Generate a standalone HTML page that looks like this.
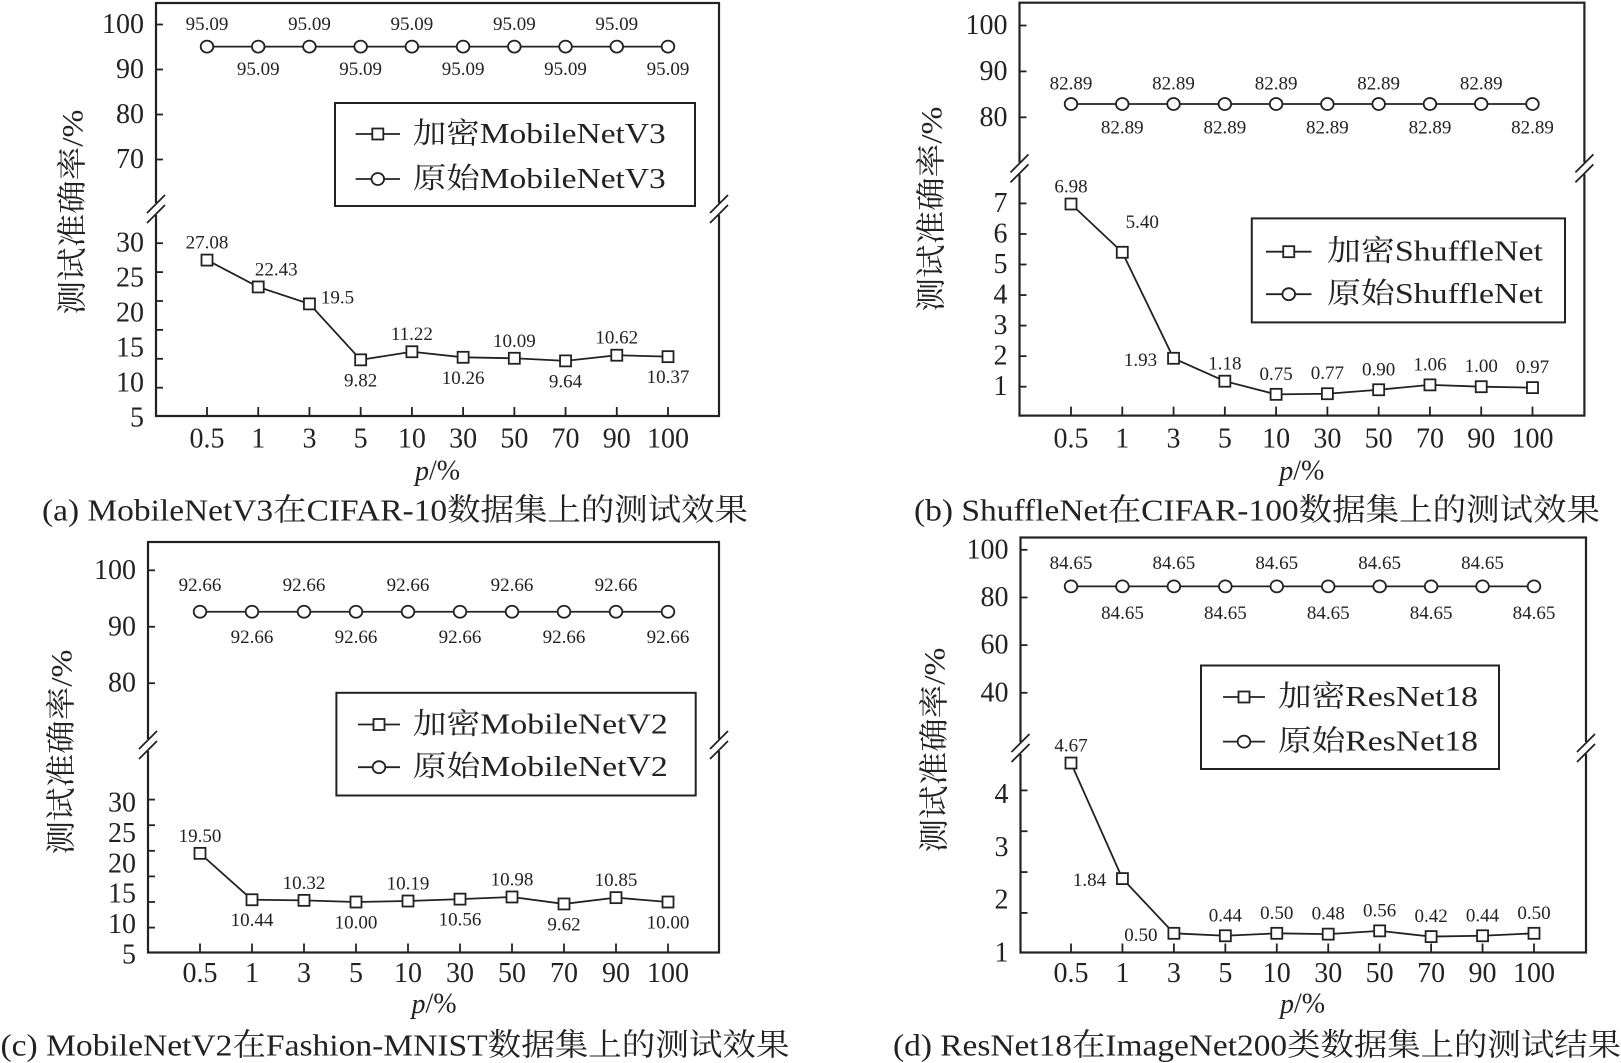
<!DOCTYPE html>
<html><head><meta charset="utf-8">
<style>
html,body{margin:0;padding:0;background:#fff;}
svg{display:block;}
text{font-family:"Liberation Serif","Noto Serif CJK SC","Noto Sans CJK SC",serif;fill:#222;}
</style></head>
<body>
<svg id="fig" width="1621" height="1063" viewBox="0 0 1621 1063" xmlns="http://www.w3.org/2000/svg"></svg>
<script>
// ---- data ----
const categories = ["0.5","1","3","5","10","30","50","70","90","100"];
const encA = [27.08,22.43,19.5,9.82,11.22,10.26,10.09,9.64,10.62,10.37];
const origA = [95.09,95.09,95.09,95.09,95.09,95.09,95.09,95.09,95.09,95.09];
const encALabels = ["27.08","22.43","19.5","9.82","11.22","10.26","10.09","9.64","10.62","10.37"];
const encB = [6.98,5.40,1.93,1.18,0.75,0.77,0.90,1.06,1.00,0.97];
const origB = [82.89,82.89,82.89,82.89,82.89,82.89,82.89,82.89,82.89,82.89];
const encBLabels = ["6.98","5.40","1.93","1.18","0.75","0.77","0.90","1.06","1.00","0.97"];
const encC = [19.50,10.44,10.32,10.00,10.19,10.56,10.98,9.62,10.85,10.00];
const origC = [92.66,92.66,92.66,92.66,92.66,92.66,92.66,92.66,92.66,92.66];
const encCLabels = ["19.50","10.44","10.32","10.00","10.19","10.56","10.98","9.62","10.85","10.00"];
const encD = [4.67,1.84,0.50,0.44,0.50,0.48,0.56,0.42,0.44,0.50];
const origD = [84.65,84.65,84.65,84.65,84.65,84.65,84.65,84.65,84.65,84.65];
const encDLabels = ["4.67","1.84","0.50","0.44","0.50","0.48","0.56","0.42","0.44","0.50"];
const upTicksA = [100,90,80,70], loTicksA = [30,25,20,15,10,5];
const upTicksB = [100,90,80], loTicksB = [7,6,5,4,3,2,1];
const upTicksC = [100,90,80], loTicksC = [30,25,20,15,10,5];
const upTicksD = [100,80,60,40], loTicksD = [4,3,2,1];

const NS="http://www.w3.org/2000/svg";
const svg=document.getElementById('fig');
function mk(tag,attrs,parent){const e=document.createElementNS(NS,tag);for(const k in attrs)e.setAttribute(k,attrs[k]);(parent||svg).appendChild(e);return e;}
function lin(v1,p1,v2,p2){return v=>p1+(v-v1)*(p2-p1)/(v2-v1);}

const placeOff={a:[0,-17],b:[0,21],ar:[18,-17],r:[28,-6],l:[-33,2],A:[20,-30],a2:[0,-20]};

const panels=[
 {id:'a',box:[156,719,3,416],xs:[207,668],up:[100,24.5,70,159.5],lo:[30,243.2,10,358.8],loLab:[30,243,5,418],
  upT:upTicksA,loT:loTicksA,brk:209,enc:encA,orig:origA,encL:encALabels,upOff:[-22,23],
  place:['a','ar','r','b','a','b','a','b','a','b'],
  leg:[335,695,103,206],legRows:[134,179],legLine:[355.6,400],legText:412.8,legLen:253,model:'MobileNetV3',
  yt:[73,212],xlabY:439,ptY:471,cap:'(a) MobileNetV3在CIFAR-10数据集上的测试效果',capX:395,capY:510,capLen:706},
 {id:'b',box:[1019.5,1584.4,2.7,415.6],xs:[1071,1532.5],up:[100,25.5,80,117.3],lo:[7,203.4,1,386.7],loLab:[7,203.4,1,386.7],
  upT:upTicksB,loT:loTicksB,brk:168.4,enc:encB,orig:origB,encL:encBLabels,upOff:[-20,24],
  place:['a','A','l','a','a2','a2','a2','a2','a2','a2'],
  leg:[1251.8,1565,218.4,322.4],legRows:[251.7,294.2],legLine:[1266,1311.5],legText:1327,legLen:216,model:'ShuffleNet',
  yt:[932,209],xlabY:439,ptY:471,cap:'(b) ShuffleNet在CIFAR-100数据集上的测试效果',capX:1257,capY:510,capLen:686},
 {id:'c',box:[148,719,542,952.5],xs:[200,668],up:[100,570.3,80,683.2],lo:[30,799.6,10,902],loLab:[30,803,5,955],
  upT:upTicksC,loT:loTicksC,brk:745,enc:encC,orig:origC,encL:encCLabels,upOff:[-26,26],
  place:['a','b','a','b','a','b','a','b','a','b'],
  leg:[336.4,695.7,692.8,795.5],legRows:[724.5,767.2],legLine:[358,400],legText:412.8,legLen:255,model:'MobileNetV2',
  yt:[62,752],xlabY:973.7,ptY:1004,cap:'(c) MobileNetV2在Fashion-MNIST数据集上的测试效果',capX:395,capY:1045,capLen:789},
 {id:'d',box:[1020.5,1586,537.5,952.5],xs:[1071,1534],up:[100,549.8,40,692.8],lo:[4,790.4,1,912.9],loLab:[4,794.5,1,953],
  upT:upTicksD,loT:loTicksD,brk:748,enc:encD,orig:origD,encL:encDLabels,upOff:[-23,27],
  place:['a','l','l','a2','a2','a2','a2','a2','a2','a2'],
  leg:[1201,1499,665.5,769],legRows:[697,741.6],legLine:[1223,1265],legText:1278,legLen:200,model:'ResNet18',
  yt:[935,750],xlabY:973.7,ptY:1004,cap:'(d) ResNet18在ImageNet200类数据集上的测试结果',capX:1257,capY:1045,capLen:728}
];

function sq(g,x,y){const r=mk('rect',{x:x-5.5,y:y-5.5,width:11,height:11,fill:'#fff',stroke:'#222','stroke-width':1.8},g);return r;}
function ci(g,x,y){const c=mk('ellipse',{cx:x,cy:y,rx:6.3,ry:6,fill:'#fff',stroke:'#222','stroke-width':1.8},g);return c;}

panels.forEach(P=>{
 const g=mk('g',{});
 
 
 const [x0,x1,y0,y1]=P.box;
 const xS=i=>P.xs[0]+i*(P.xs[1]-P.xs[0])/(categories.length-1);
 const yU=lin(...P.up), yL=lin(...P.lo), yLab=lin(...P.loLab);
 const box=mk('rect',{x:x0,y:y0,width:x1-x0,height:y1-y0,fill:'none',stroke:'#222','stroke-width':2.2},g);
 
 
 [x0,x1].forEach((bx,k)=>{
  const w=mk('rect',{x:bx-3,y:P.brk-6,width:6,height:12,fill:'#fff'},g);
  
  
  [-5,5].forEach(o=>{
   const l=mk('line',{x1:bx-9,y1:P.brk+o+9,x2:bx+9,y2:P.brk+o-9,stroke:'#222','stroke-width':1.8},g);
   
   
  });
 });
 P.upT.forEach(v=>{
  const y=yU(v);
  const t=mk('line',{x1:x0,y1:y,x2:x0+7,y2:y,stroke:'#222','stroke-width':1.8},g);
  
  
  const tx=mk('text',{x:x0-12,y:y,'text-anchor':'end','dominant-baseline':'central','font-size':28},g);
  tx.textContent=v;
  
  
 });
 P.loT.forEach(v=>{
  const y=yL(v);
  const t=mk('line',{x1:x0,y1:y,x2:x0+7,y2:y,stroke:'#222','stroke-width':1.8},g);
  
  
  const tx=mk('text',{x:x0-12,y:yLab(v),'text-anchor':'end','dominant-baseline':'central','font-size':28},g);
  tx.textContent=v;
  
  
 });
 categories.forEach((c,i)=>{
  const x=xS(i);
  const t=mk('line',{x1:x,y1:y1,x2:x,y2:y1-9,stroke:'#222','stroke-width':1.8},g);
  
  
  const tx=mk('text',{x:x,y:P.xlabY,'text-anchor':'middle','dominant-baseline':'central','font-size':28},g);
  tx.textContent=c;
  
  
 });
 const op=mk('polyline',{points:P.orig.map((v,i)=>xS(i)+','+yU(v)).join(' '),fill:'none',stroke:'#222','stroke-width':1.8},g);
 
 
 P.orig.forEach((v,i)=>{
  ci(g,xS(i),yU(v));
  const tx=mk('text',{x:xS(i),y:yU(v)+P.upOff[i%2],'text-anchor':'middle','dominant-baseline':'central','font-size':19},g);
  tx.textContent=v.toFixed(2);
  
  
 });
 const ep=mk('polyline',{points:P.enc.map((v,i)=>xS(i)+','+yL(v)).join(' '),fill:'none',stroke:'#222','stroke-width':1.8},g);
 
 
 P.enc.forEach((v,i)=>{
  sq(g,xS(i),yL(v));
  const o=placeOff[P.place[i]];
  const tx=mk('text',{x:xS(i)+o[0],y:yL(v)+o[1],'text-anchor':'middle','dominant-baseline':'central','font-size':19},g);
  tx.textContent=P.encL[i];
  
  
 });
 const [lx0,lx1,ly0,ly1]=P.leg;
 const lg=mk('g',{},g);
 
 
 mk('rect',{x:lx0,y:ly0,width:lx1-lx0,height:ly1-ly0,fill:'#fff',stroke:'#222','stroke-width':2},lg);
 ['加密','原始'].forEach((pre,k)=>{
  const ry=P.legRows[k];
  const e=mk('g',{},lg);
  
  
  mk('line',{x1:P.legLine[0],y1:ry,x2:P.legLine[1],y2:ry,stroke:'#222','stroke-width':1.8},e);
  const mx=(P.legLine[0]+P.legLine[1])/2;
  if(k===0)sq(e,mx,ry);else ci(e,mx,ry);
  const tx=mk('text',{x:P.legText,y:ry,'dominant-baseline':'central','font-size':29,textLength:P.legLen,lengthAdjust:'spacingAndGlyphs'},e);
  tx.textContent=pre+P.model;
 });
 const yt=mk('text',{x:P.yt[0],y:P.yt[1],'text-anchor':'middle','dominant-baseline':'central','font-size':30,textLength:205,lengthAdjust:'spacingAndGlyphs',transform:`rotate(-90 ${P.yt[0]} ${P.yt[1]})`},g);
 yt.textContent='测试准确率/%';
 
 
 const xt=mk('text',{x:(P.xs[0]+P.xs[1])/2,y:P.ptY,'text-anchor':'middle','dominant-baseline':'central','font-size':28},g);
 xt.innerHTML='<tspan font-style="italic">p</tspan>/%';
 
 
 const cp=mk('text',{x:P.capX,y:P.capY,'text-anchor':'middle','dominant-baseline':'central','font-size':31,textLength:P.capLen,lengthAdjust:'spacingAndGlyphs'},g);
 cp.textContent=P.cap;
 
 
});
</script>
</body></html>
